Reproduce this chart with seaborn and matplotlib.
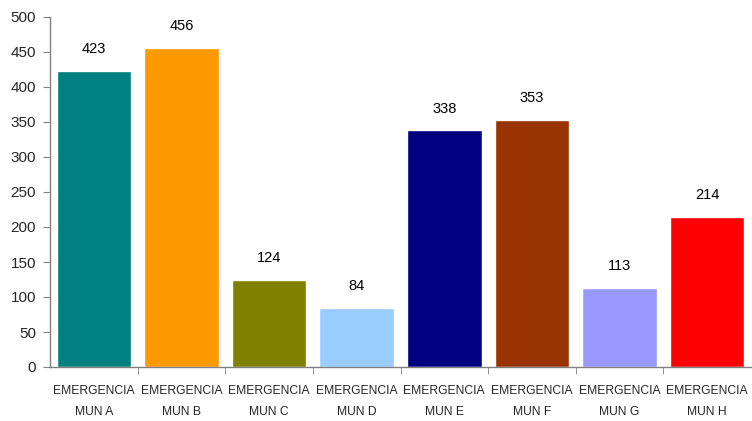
import matplotlib
matplotlib.use('Agg')
import matplotlib.pyplot as plt
import seaborn as sns
import numpy as np
import pandas as pd

# datos
categorias = ['EMERGENCIA\nMUN A', 'EMERGENCIA\nMUN B', 'EMERGENCIA\nMUN C', 'EMERGENCIA\nMUN D',
              'EMERGENCIA\nMUN E', 'EMERGENCIA\nMUN F', 'EMERGENCIA\nMUN G', 'EMERGENCIA\nMUN H']
valores = [423, 456, 124, 84, 338, 353, 113, 214]
colores = ['#008080', '#FF9900', '#808000', '#99CCFF', '#000080', '#993300', '#9999FF', '#FF0000']

sns.set_style('white')
plt.rcParams['font.family'] = ['Liberation Sans', 'DejaVu Sans']

df = pd.DataFrame({'cat': categorias, 'val': valores})

fig = plt.figure(figsize=(7.52, 4.21), dpi=100)
ax = fig.add_axes([50 / 752, 54 / 421, 701 / 752, 350 / 421])

sns.barplot(data=df, x='cat', y='val', hue='cat', palette=colores, legend=False,
            width=0.85, saturation=1, ax=ax)

for i, v in enumerate(valores):
    ax.text(i, v + 21, str(v), ha='center', va='bottom', fontsize=10.5, color='black')

ax.set_ylim(0, 500)
ax.set_xlim(-0.5, len(categorias) - 0.5)
ax.set_yticks(np.arange(0, 501, 50))
ax.set_xlabel('')
ax.set_ylabel('')

for s in ['top', 'right']:
    ax.spines[s].set_visible(False)
for s in ['left', 'bottom']:
    ax.spines[s].set_color('#808080')
    ax.spines[s].set_linewidth(1)

ax.tick_params(axis='y', which='major', left=True, length=5, color='#808080', labelsize=11, pad=5)
ax.tick_params(axis='x', which='major', length=0, labelsize=8.7, pad=13)
ax.set_xticks(np.arange(0.5, len(categorias) - 0.5), minor=True)
ax.tick_params(axis='x', which='minor', bottom=True, length=5, color='#808080')
for lab in ax.get_xticklabels():
    lab.set_family(['Liberation Sans Narrow', 'Liberation Sans'])
    lab.set_linespacing(2.0)

fig.savefig('out.png', dpi=100)
